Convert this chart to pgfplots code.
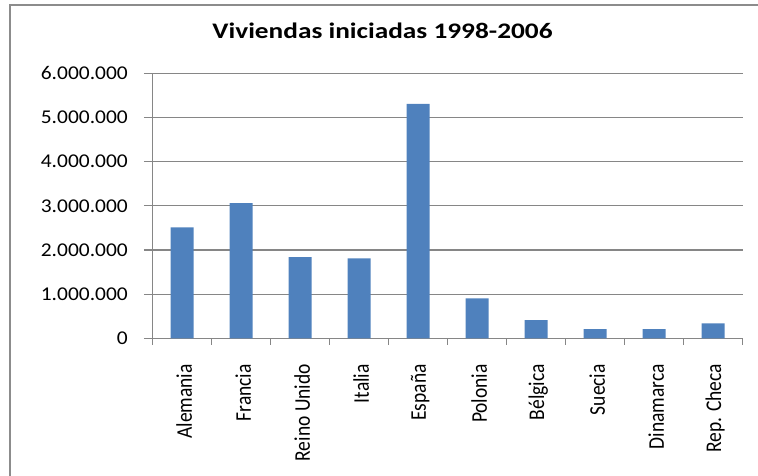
\documentclass[border=0pt]{standalone}
\usepackage{pgfplots}
\pgfplotsset{compat=1.18}
\usepackage{fontspec}
\setmainfont{Carlito}
\newfontfamily\ytickfont{Carlito}[FakeStretch=1.1]
\newfontfamily\titlefont{Carlito}[FakeStretch=1.23]
\definecolor{barblue}{RGB}{79,129,189}
\definecolor{gridgray}{RGB}{134,134,134}
\definecolor{bordergray}{RGB}{140,140,140}
\begin{document}
\begin{tikzpicture}[x=1pt,y=1pt]
\path[use as bounding box] (0,0) rectangle (758,476);
\draw[bordergray, line width=1.3pt] (10,0) -- (10,471) -- (758,471);
\node[font={\titlefont\bfseries\fontsize{22.2}{26}\selectfont}, anchor=base] at (382.5,437.7) {Viviendas iniciadas 1998-2006};
\begin{axis}[
  at={(152.7pt,137.7pt)}, anchor=south west,
  scale only axis, width=590pt, height=265pt,
  xmin=-0.5, xmax=9.5, ymin=0, ymax=6000000,
  axis lines*=left,
  axis line style={gridgray, line width=1.1pt},
  ymajorgrids, grid style={gridgray, line width=1.1pt},
  tick align=outside,
  ytick={0,1000000,2000000,3000000,4000000,5000000,6000000},
  yticklabels={0,1.000.000,2.000.000,3.000.000,4.000.000,5.000.000,6.000.000},
  scaled y ticks=false,
  major tick length=8.7pt,
  ytick style={gridgray, line width=1.1pt},
  xtick={0,1,2,3,4,5,6,7,8,9},
  xticklabels={Alemania,Francia,Reino Unido,Italia,España,Polonia,Bélgica,Suecia,Dinamarca,Rep. Checa},
  major x tick style={draw=none},
  minor xtick={-0.5,0.5,1.5,2.5,3.5,4.5,5.5,6.5,7.5,8.5,9.5},
  minor x tick style={gridgray, line width=1.1pt},
  minor tick length=6.7pt,
  yticklabel style={font={\ytickfont\fontsize{19.5}{23}\selectfont}, anchor=east, inner sep=0pt, xshift=-16pt},
  xticklabel style={font={\fontsize{19.5}{23}\selectfont}, xshift=2pt, yshift=-17pt, rotate=90, yscale=1.15, anchor=east, inner sep=0pt},
]
\addplot[ybar, bar width=0.39, fill=barblue, draw=none] coordinates {
(0,2510000) (1,3060000) (2,1840000) (3,1810000) (4,5310000)
(5,905000) (6,410000) (7,210000) (8,210000) (9,340000)};
\end{axis}
\end{tikzpicture}
\end{document}
